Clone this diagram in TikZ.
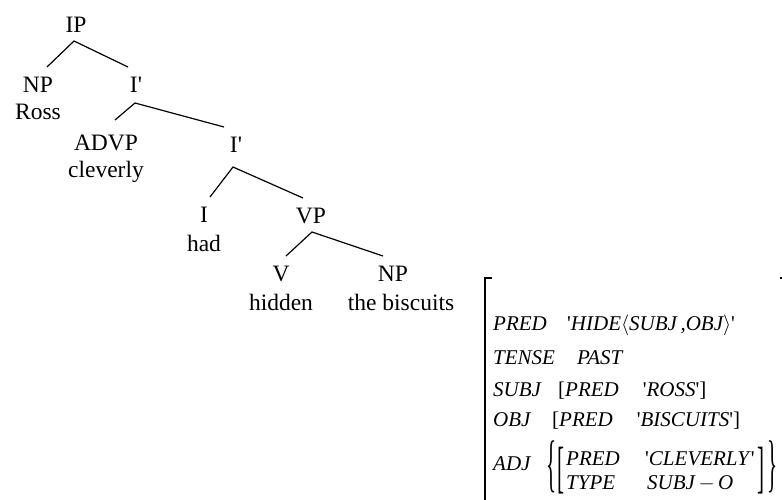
\documentclass[tikz,border=0pt]{standalone}
\usepackage{fontspec}
\usepackage{graphicx}
\setmainfont{Liberation Serif}
\newcommand{\fq}[1]{\textup{\textquotesingle}#1\textup{\textquotesingle}}
\newcommand{\barmark}{\textquotesingle}

\begin{document}
\begin{tikzpicture}[x=1pt, y=-1pt,
    cat/.style={font=\fontsize{23.5}{28}\selectfont, inner sep=0pt, text height=16pt, text depth=0pt, outer ysep=9pt, anchor=base},
    word/.style={font=\fontsize{23.5}{28}\selectfont, inner sep=0pt, anchor=base},
    feat/.style={font=\fontsize{21}{24}\selectfont\itshape, inner sep=0pt, anchor=base west},
    delim/.style={font=\fontsize{21}{24}\selectfont, inner sep=0pt},
    branch/.style={line width=1.2pt, line join=miter},
    avm/.style={line width=1.2pt}]

\clip (0,0) rectangle (782,499);

% c-structure
\node[cat] (ip) at (76,32) {IP};
\node[cat] (np) at (38,92) {NP};
\node[word] (ross) at ([yshift=-27pt]np.base) {Ross};
\node[cat] (ibar) at (136,92) {I\barmark};
\node[cat] (advp) at (106,150) {ADVP};
\node[word] (cleverly) at ([yshift=-27pt]advp.base) {cleverly};
\node[cat] (ibarb) at (236,152) {I\barmark};
\node[cat] (infl) at (204,222) {I};
\node[word] (had) at ([yshift=-29pt]infl.base) {had};
\node[cat] (vp) at (311,223) {VP};
\node[cat] (verb) at (281,281) {V};
\node[word] (hidden) at ([yshift=-29pt]verb.base) {hidden};
\node[cat] (npb) at (393,281) {NP};
\node[word] (biscuits) at ([xshift=8pt,yshift=-29pt]npb.base) {the biscuits};

\draw[branch] ([xshift=9pt]np.north) -- ([xshift=-2pt]ip.south) -- ([xshift=-8pt]ibar.north);
\draw[branch] ([xshift=9pt,yshift=5pt]advp.north) -- ([xshift=-1pt,yshift=-2pt]ibar.south) -- ([xshift=-12pt]ibarb.north);
\draw[branch] ([xshift=6pt]infl.north) -- ([xshift=-3pt,yshift=-6pt]ibarb.south) -- ([xshift=-8pt]vp.north);
\draw[branch] ([xshift=5pt]verb.north) -- ([xshift=1pt]vp.south) -- ([xshift=-10pt]npb.north);

% f-structure
\draw[avm] (492,278) -- (485,278) -- (485,510);
\draw[avm] (780,278) -- (790,278) -- (790,510);

\node[feat] (kpred) at (493,330) {PRED};
\node[feat] (vpred) at (567,330) {\fq{HIDE$\langle$SUBJ\,,OBJ$\rangle$}};
\node[feat] (ktense) at (493,364) {TENSE};
\node[feat] (vtense) at (577,364) {PAST};
\node[feat] (ksubj) at (493,396) {SUBJ};
\node[feat] (vsubj) at (558,396) {\textup{[}PRED\hspace{24pt}\fq{ROSS}\textup{]}};
\node[feat] (kobj) at (493,426) {OBJ};
\node[feat] (vobj) at (552,426) {\textup{[}PRED\hspace{24pt}\fq{BISCUITS}\textup{]}};
\node[feat] (kadj) at (493,470) {ADJ};
\node[feat] (apred) at (566,465) {PRED};
\node[feat] (acle) at (645,465) {\fq{CLEVERLY}};
\node[feat] (atype) at (566,489) {TYPE};
\node[feat] (asubjo) at (647,489) {SUBJ\,$-$\,O};

% ADJ set and its inner f-structure
\node[delim] (lbrace) at (552,467) {\scalebox{1}[3.0]{\{}};
\node[delim] (lbrack) at (561,471) {\scalebox{1}[2.7]{[}};
\node[delim] (rbrack) at (761,471) {\scalebox{1}[2.7]{]}};
\node[delim] (rbrace) at (773,467) {\scalebox{1}[3.0]{\}}};
\end{tikzpicture}
\end{document}
